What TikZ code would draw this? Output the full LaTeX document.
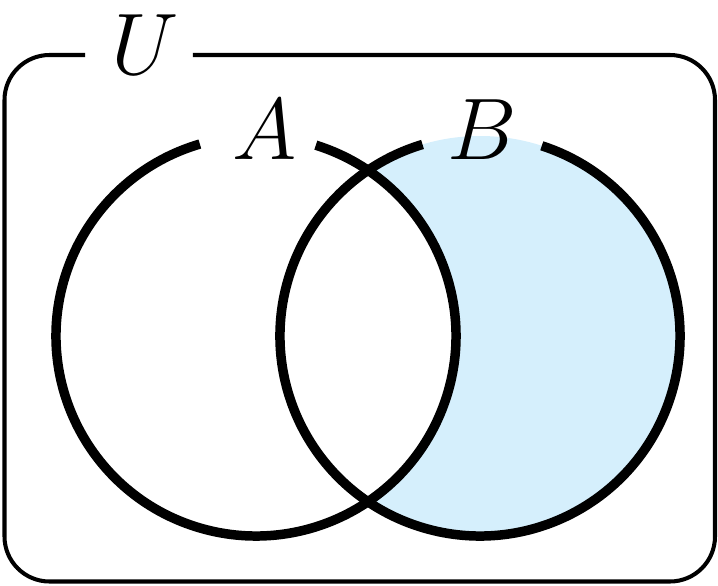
\documentclass[tikz,border=0pt]{standalone}
\usepackage{amsmath}
\usepackage{amssymb}
\usepackage{tikz}
\usetikzlibrary{calc}
\definecolor{setfill}{RGB}{213,239,252}

\begin{document}
\begin{tikzpicture}
		\useasboundingbox (0,0) rectangle (7.18,5.85);
		\coordinate (A) at (2.56, 2.49);
		\coordinate (B) at (4.80, 2.49);
		\fill[setfill] (B) circle (2);
		\fill[white] (A) circle (2);
		\draw[line width=2.7pt] ([shift=(72.6:2)]A) arc(72.6:-253.7:2);
		\draw[line width=2.7pt] ([shift=(72:2)]B) arc(72:-253.3:2);
		\draw[line width=1.15pt,rounded corners=0.45cm] (1.93,5.30) -- (7.15,5.30) -- (7.15,0.035) -- (0.045,0.035) -- (0.045,5.30) -- (0.85,5.30);
		\node (labU) at (1.45, 5.40) [inner sep=0pt] {\fontsize{27}{32}\selectfont$U$};
		\node (labA) at (2.65, 4.55) [inner sep=0pt] {\fontsize{27}{32}\selectfont$A$};
		\node (labB) at (4.82, 4.55) [inner sep=0pt] {\fontsize{27}{32}\selectfont$B$};
	\end{tikzpicture}
\end{document}
